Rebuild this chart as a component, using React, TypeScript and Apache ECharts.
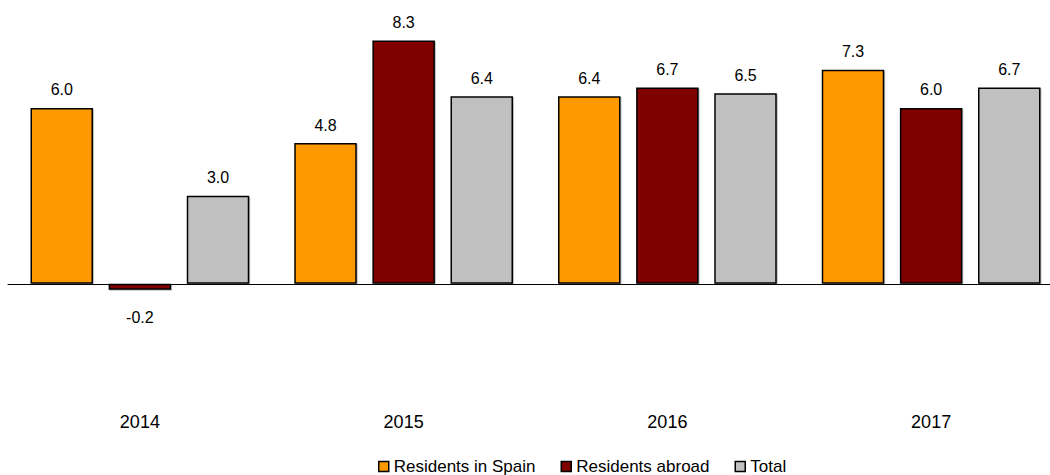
import React, { useEffect, useRef } from "react";
import * as echarts from "echarts";

const categories = ["2014", "2015", "2016", "2017"];
const residentsSpain = [6.0, 4.8, 6.4, 7.3];
const residentsAbroad = [-0.2, 8.3, 6.7, 6.0];
const total = [3.0, 6.4, 6.5, 6.7];
const seriesNames = ["Residents in Spain", "Residents abroad", "Total"];
const colors = ["#FF9900", "#800000", "#C0C0C0"];

const font = "Liberation Sans, Arial, sans-serif";

export default function App() {
  const ref = useRef<HTMLDivElement>(null);
  useEffect(() => {
    if (!ref.current) return;
    const chart = echarts.init(ref.current, null, { renderer: "svg" });
    const mk = (name: string, data: number[], color: string) => ({
      name,
      type: "bar",
      barWidth: 62.5,
      barGap: "25%",
      data: data.map((v) =>
        v < 0
          ? { value: v, label: { position: "bottom", distance: 20 } }
          : v
      ),
      itemStyle: {
        color,
        borderColor: "#000",
        borderWidth: 1.5,
        shadowColor: "rgba(0,0,0,0.25)",
        shadowOffsetX: 1,
        shadowOffsetY: 1,
        shadowBlur: 1,
      },
      label: {
        show: true,
        position: "top",
        distance: 10,
        color: "#000",
        fontFamily: font,
        fontSize: 16,
        formatter: (p: any) => Number(p.value).toFixed(1),
      },
    });
    chart.setOption({
      animation: false,
      grid: {
        left: 8,
        top: 20,
        width: 1055,
        height: 381,
        containLabel: false,
        outerBoundsMode: "none",
      },
      legend: {
        bottom: -5,
        left: 373,
        itemWidth: 10,
        itemHeight: 10,
        itemGap: 25,
        icon: "rect",
        textStyle: { fontFamily: font, fontSize: 17, color: "#000", padding: [0, 0, 0, 0] },
        itemStyle: { borderColor: "#000", borderWidth: 1.5, shadowBlur: 0, shadowOffsetX: 0, shadowOffsetY: 0 },
        data: seriesNames,
      },
      xAxis: {
        type: "category",
        data: categories,
        axisLine: { onZero: true, lineStyle: { color: "#000", width: 1 } },
        axisTick: { show: false },
        axisLabel: {
          interval: 0,
          margin: 12,
          color: "#000",
          fontFamily: font,
          fontSize: 18,
        },
      },
      yAxis: {
        type: "value",
        min: -4,
        max: 9,
        show: false,
        splitLine: { show: false },
      },
      series: [
        mk(seriesNames[0], residentsSpain, colors[0]),
        mk(seriesNames[1], residentsAbroad, colors[1]),
        mk(seriesNames[2], total, colors[2]),
      ],
    });
    return () => chart.dispose();
  }, []);
  return (
    <div
      ref={ref}
      style={{ position: "fixed", left: 0, top: 0, width: 1050, height: 475, background: "#fff" }}
    />
  );
}
